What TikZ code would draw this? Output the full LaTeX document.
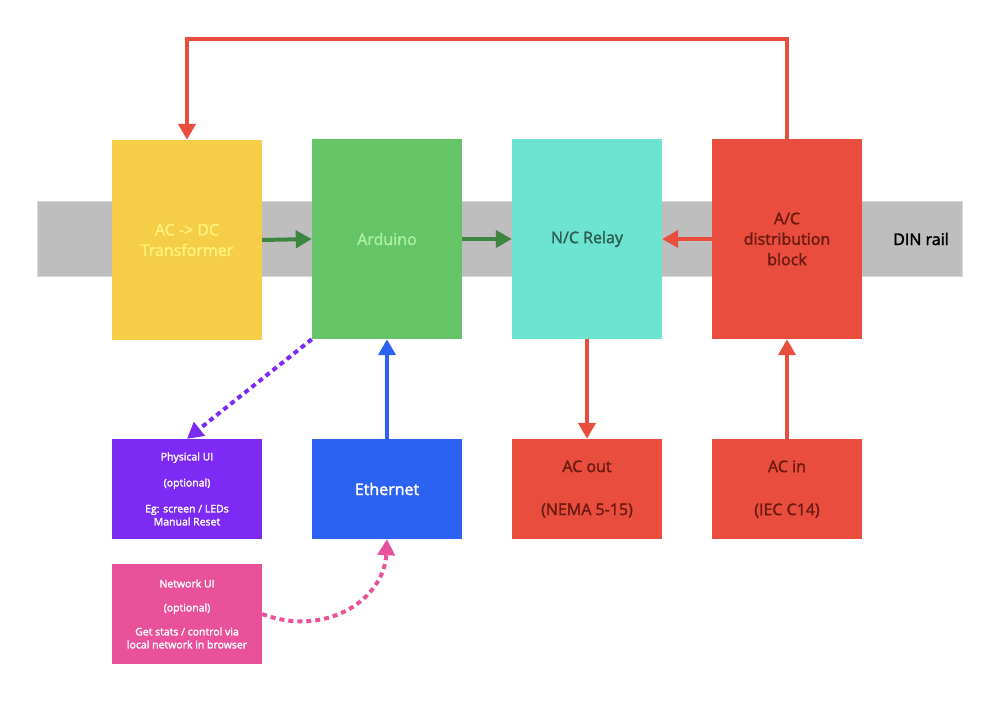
\documentclass[tikz,border=0pt]{standalone}
\usepackage{fontspec}
\setmainfont{Open Sans}[UprightFeatures={FakeBold=2}]
\usetikzlibrary{arrows.meta}
\definecolor{cyel}{HTML}{F5CD47}
\definecolor{tyel}{HTML}{FFF27A}
\definecolor{cgrn}{HTML}{65C466}
\definecolor{tgrn}{HTML}{A8F0A0}
\definecolor{cteal}{HTML}{6DE4D1}
\definecolor{tteal}{HTML}{2F5F55}
\definecolor{cred}{HTML}{E84D3D}
\definecolor{tred}{HTML}{6E1A12}
\definecolor{cpur}{HTML}{7D2AF4}
\definecolor{cblu}{HTML}{2B62F2}
\definecolor{cpnk}{HTML}{E9529A}
\definecolor{crail}{HTML}{BEBEBE}
\definecolor{brail}{HTML}{D9D9D9}
\definecolor{agrn}{HTML}{3D8540}
\begin{document}
\begin{tikzpicture}[x=1pt,y=-1pt,
  big/.style={minimum width=150pt,minimum height=200pt,inner sep=0pt,align=center,
    font=\fontsize{16}{20.5}\selectfont},
  mid/.style={minimum width=150pt,minimum height=100pt,inner sep=0pt,align=center,
    font=\fontsize{16}{21.5}\selectfont},
  small/.style={minimum width=150pt,minimum height=100pt,inner sep=0pt,align=center,
    font=\fontsize{10.5}{13}\selectfont,text=white},
  arr/.style={line width=4pt,-{Triangle[length=16pt,width=17pt]}},
  dotarr/.style={arr,dash pattern=on 5pt off 4pt}
]
\useasboundingbox (0,0) rectangle (999,701);
\fill[white] (0,0) rectangle (999,701);
% DIN rail
\node[fill=crail,draw=brail,line width=1pt,minimum width=925pt,minimum height=75pt,inner sep=0pt] (rail) at (499.5,238.5) {};
\node[font=\fontsize{16}{20}\selectfont,text=black] (raillbl) at (921,239) {DIN rail};
% main blocks
\node[big,fill=cyel,text=tyel] (tr) at (187,240) {AC -> DC\\Transformer};
\node[big,fill=cgrn,text=tgrn] (ard) at (387,239) {Arduino};
\node[big,fill=cteal,text=tteal] (rel) at (587,239) {N/C Relay};
\node[big,fill=cred,text=tred] (dist) at (787,239) {A/C\\distribution\\block};
% lower blocks
\node[small,fill=cpur] (pui) at (187,489) {Physical UI\\[13pt](optional)\\[13pt]Eg: screen / LEDs\\Manual Reset};
\node[mid,fill=cblu,text=white] (eth) at (387,489) {Ethernet};
\node[mid,fill=cred,text=tred] (acout) at (587,489) {AC out\\[21.5pt](NEMA 5-15)};
\node[mid,fill=cred,text=tred] (acin) at (787,489) {AC in\\[21.5pt](IEC C14)};
\node[small,fill=cpnk] (nui) at (187,614) {Network UI\\[11pt](optional)\\[11pt]Get stats / control via\\local network in browser};
% connectors
\draw[arr,cred] (dist.north) -- ++(0,-100) -| (tr.north);
\draw[arr,agrn] (tr.east) -- (ard.west);
\draw[arr,agrn] (ard.east) -- (rel.west);
\draw[arr,cred] (dist.west) -- (rel.east);
\draw[arr,cred] (rel.south) -- (acout.north);
\draw[arr,cred] (acin.north) -- (dist.south);
\draw[arr,cblu] (eth.north) -- (ard.south);
\draw[dotarr,cpur] (ard.south west) -- (pui.north);
\draw[dotarr,cpnk] (nui.east) .. controls (325,638) and (384,600) .. (eth.south);
\end{tikzpicture}
\end{document}
